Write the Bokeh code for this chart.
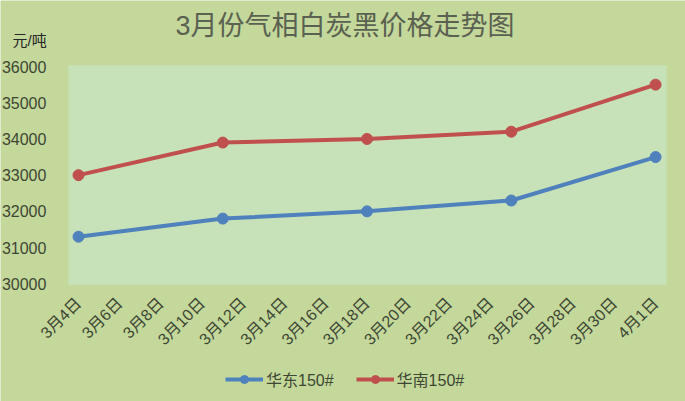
import math
from bokeh.plotting import figure
from bokeh.models import Label, Legend, LegendItem, FixedTicker, Range1d, BoxAnnotation
from bokeh.embed import file_html
from bokeh.resources import INLINE

# ---- data ----
title_text = "3月份气相白炭黑价格走势图"
unit_text = "元/吨"
tick_days = [0, 2, 4, 6, 8, 10, 12, 14, 16, 18, 20, 22, 24, 26, 28]
tick_labels = ["3月4日", "3月6日", "3月8日", "3月10日", "3月12日", "3月14日", "3月16日",
               "3月18日", "3月20日", "3月22日", "3月24日", "3月26日", "3月28日", "3月30日", "4月1日"]
point_days = [0, 7, 14, 21, 28]          # 3/4, 3/11, 3/18, 3/25, 4/1
east_name = "华东150#"
south_name = "华南150#"
east_vals = [31300, 31800, 32000, 32300, 33500]
south_vals = [33000, 33900, 34000, 34200, 35500]
y_ticks = [30000, 31000, 32000, 33000, 34000, 35000, 36000]

FONT = "Liberation Sans, Noto Sans CJK SC"
TXT = "#3d4733"
BLUE = "#4f81bd"
RED = "#c0504d"
OUTER = "#c4d89b"
INNER = "#c7e1b8"

W, H = 685, 401
# plot-area extent in data units
area_left = point_days[0] - 0.49
area_right = point_days[-1] + 0.53
area_bottom = y_ticks[0] - 20
area_top = y_ticks[-1] + 30
# the frame covers the whole canvas; axes are pinned to the plot-area edges
px_per_day = 20.61
units_per_px = 27.62
x_lo = point_days[0] - 78 / px_per_day
x_hi = x_lo + W / px_per_day
y_lo = area_bottom - (H - 284) * units_per_px
y_hi = area_bottom + 284 * units_per_px

p = figure(width=W, height=H, output_backend="svg", toolbar_location=None,
           x_range=Range1d(x_lo, x_hi), y_range=Range1d(y_lo, y_hi),
           min_border=0, min_border_left=0, min_border_right=0,
           min_border_top=0, min_border_bottom=0)

p.background_fill_color = OUTER
p.border_fill_color = OUTER
p.outline_line_color = None
p.grid.visible = False

p.add_layout(BoxAnnotation(left=area_left, right=area_right, bottom=area_bottom, top=area_top,
                           fill_color=INNER, fill_alpha=1.0, line_color=None, level="underlay"))

# faint horizontal gridlines inside the plot area
p.segment(x0=area_left, x1=area_right, y0=y_ticks, y1=y_ticks,
          line_color="#d2e9c6", line_width=1, level="underlay")

# axes
p.yaxis.fixed_location = area_left
p.yaxis.ticker = FixedTicker(ticks=y_ticks)
p.yaxis.axis_line_color = None
p.yaxis.major_tick_line_color = None
p.yaxis.minor_tick_line_color = None
p.yaxis.major_label_standoff = 16
p.yaxis.major_label_text_font = FONT
p.yaxis.major_label_text_font_size = "16px"
p.yaxis.major_label_text_color = TXT

p.xaxis.fixed_location = area_bottom
p.xaxis.ticker = FixedTicker(ticks=tick_days)
p.xaxis.major_label_overrides = {d: l for d, l in zip(tick_days, tick_labels)}
p.xaxis.axis_line_color = None
p.xaxis.major_tick_line_color = None
p.xaxis.minor_tick_line_color = None
p.xaxis.major_label_orientation = math.pi / 4
p.xaxis.major_label_standoff = 10
p.xaxis.major_label_text_font = FONT
p.xaxis.major_label_text_font_size = "16px"
p.xaxis.major_label_text_color = TXT

# series
r1 = p.line(point_days, east_vals, line_color=BLUE, line_width=4)
s1 = p.scatter(point_days, east_vals, size=11, fill_color=BLUE, line_color=BLUE)
r2 = p.line(point_days, south_vals, line_color=RED, line_width=4)
s2 = p.scatter(point_days, south_vals, size=11, fill_color=RED, line_color=RED)

legend = Legend(items=[LegendItem(label=east_name, renderers=[r1, s1]),
                       LegendItem(label=south_name, renderers=[r2, s2])],
                location=(225, 10), orientation="horizontal")
legend.background_fill_alpha = 0
legend.border_line_color = None
legend.padding = 0
legend.margin = 0
legend.spacing = 22
legend.glyph_width = 38
legend.glyph_height = 20
legend.label_height = 20
legend.label_standoff = 3
legend.label_text_font = FONT
legend.label_text_font_size = "16px"
legend.label_text_color = TXT
p.add_layout(legend, "center")

# title and unit caption
p.add_layout(Label(x=175, y=H - 25, x_units="screen", y_units="screen", text=title_text,
                   text_font=FONT, text_font_size="27px", text_color="#5a6150",
                   text_align="left", text_baseline="middle"))
p.add_layout(Label(x=12, y=H - 40, x_units="screen", y_units="screen", text=unit_text,
                   text_font=FONT, text_font_size="15px", text_color="#262626",
                   text_align="left", text_baseline="middle"))

open("out.html", "w").write(file_html(p, INLINE))
